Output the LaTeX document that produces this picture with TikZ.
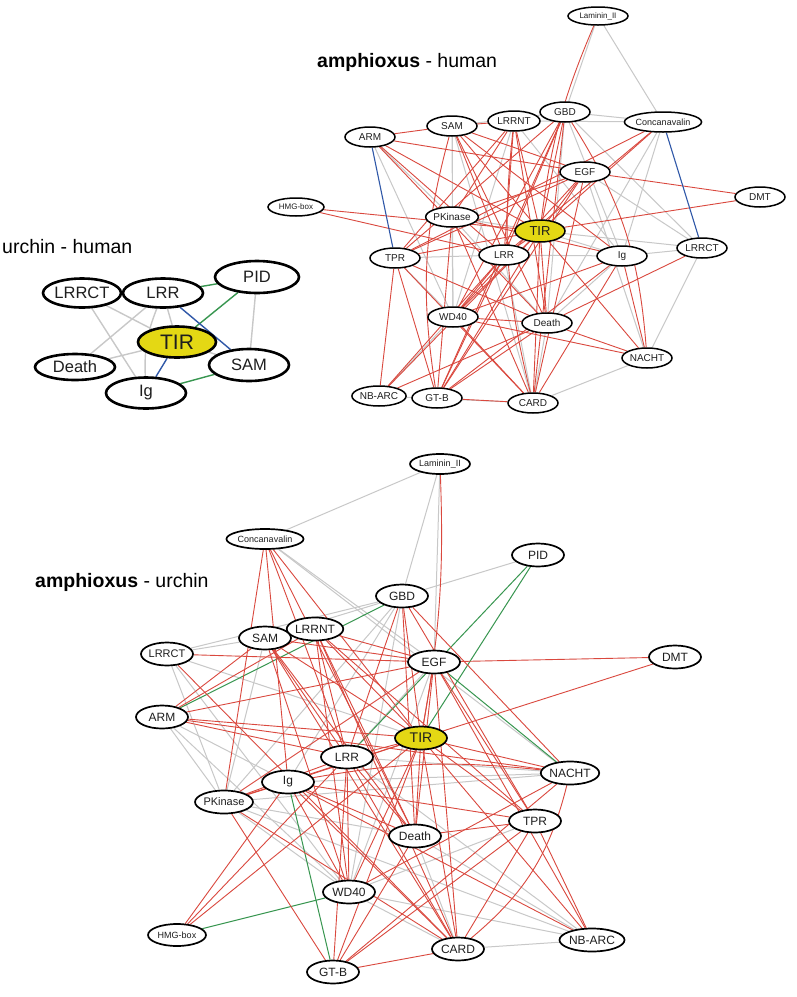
\documentclass[tikz,border=0pt]{standalone}
\usepackage{fontspec}
\setmainfont{Liberation Sans}
\usetikzlibrary{shapes.geometric}
\pgfdeclarelayer{bg}
\pgfsetlayers{bg,main}
\definecolor{er}{RGB}{218,72,62}
\definecolor{eg}{RGB}{200,200,200}
\definecolor{egr}{RGB}{56,150,80}
\definecolor{eb}{RGB}{48,88,168}
\definecolor{tiry}{RGB}{228,216,20}
\definecolor{txt}{RGB}{30,30,30}
\begin{document}
\begin{tikzpicture}[x=1pt,y=-1pt,
 base/.style={ellipse,draw=black,fill=white,inner sep=0pt,text=txt},
 tn/.style={base,line width=1.5pt,minimum width=50pt,minimum height=20pt,font=\fontsize{10}{10}\selectfont},
 tsm/.style={tn,font=\fontsize{8}{8}\selectfont},
 bn/.style={base,line width=1.7pt,minimum width=52pt,minimum height=23pt,font=\fontsize{12}{12}\selectfont},
 bsm/.style={bn,font=\fontsize{9}{9}\selectfont,minimum height=20pt},
 un/.style={base,line width=2.6pt,minimum width=79pt,minimum height=29pt,font=\fontsize{16.5}{16.5}\selectfont},
 tirs/.style={fill=tiry},
 re/.style={draw=er,line width=0.9pt},
 ge/.style={draw=eg,line width=1pt},
 gre/.style={draw=egr,line width=1pt},
 ble/.style={draw=eb,line width=1.1pt},
 title/.style={anchor=west,font=\fontsize{19.5}{19.5}\selectfont,text=black}]
\useasboundingbox (0,0) rectangle (797,997);
\begin{pgfonlayer}{bg}
\fill[white] (0,0) rectangle (797,997);
\end{pgfonlayer}
% titles
\node[title,inner sep=0pt] (t1) at (2,247) {urchin - human};
\node[title,inner sep=0pt] (t2) at (317,62) {\textbf{amphioxus} - human};
\node[title,inner sep=0pt] (t3) at (35,582) {\textbf{amphioxus} - urchin};

% ---------- urchin - human ----------
\node[un,minimum width=78pt] (cLRRCT) at (82,293) {LRRCT};
\node[un,minimum width=80pt] (cLRR) at (163,293) {LRR};
\node[un,minimum width=84pt,minimum height=32pt] (cPID) at (257,277) {PID};
\node[un,tirs,font=\fontsize{21}{21}\selectfont,minimum width=78pt,minimum height=31pt] (cTIR) at (177,342) {TIR};
\node[un,minimum width=80pt,minimum height=26pt] (cDeath) at (75,367) {Death};
\node[un,minimum width=80pt,minimum height=32pt] (cSAM) at (249,365) {SAM};
\node[un,minimum width=80pt,minimum height=31pt] (cIg) at (146,393) {Ig};
\begin{pgfonlayer}{bg}
\foreach \a/\b in {cPID/cSAM,cLRRCT/cTIR,cLRRCT/cIg,cLRR/cDeath,cLRR/cTIR,cDeath/cTIR,cTIR/cSAM}
 \path[ge,line width=1.4pt] (\a) -- (\b);
\path[ge,line width=1.4pt] (cLRR) to[bend right=12] (cIg);
\foreach \a/\b in {cLRR/cPID,cPID/cTIR,cIg/cSAM}
 \path[gre,line width=1.4pt] (\a) -- (\b);
\foreach \a/\b in {cLRR/cSAM,cTIR/cIg}
 \path[ble,line width=1.4pt] (\a) -- (\b);
\end{pgfonlayer}

% ---------- amphioxus - human ----------
\node[tsm,minimum width=60pt,minimum height=18pt] (hLam) at (598,16) {Laminin\_II};
\node[tn] (hGBD) at (565,112) {GBD};
\node[tn,minimum width=52pt] (hLRRNT) at (514,121) {LRRNT};
\node[tn] (hSAM) at (452,126) {SAM};
\node[tn] (hARM) at (370,137) {ARM};
\node[tsm,font=\fontsize{9}{9}\selectfont,minimum width=74pt] (hCon) at (663,122) {Concanavalin};
\node[tn] (hEGF) at (585,172) {EGF};
\node[tn] (hDMT) at (760,197) {DMT};
\node[tsm,minimum width=56pt,minimum height=18pt] (hHMG) at (296,207) {HMG-box};
\node[tn,minimum width=52pt] (hPK) at (452,217) {PKinase};
\node[tn,tirs,font=\fontsize{13}{13}\selectfont,minimum height=22pt] (hTIR) at (540,231) {TIR};
\node[tn] (hTPR) at (395,258) {TPR};
\node[tn] (hLRR) at (504,255) {LRR};
\node[tn] (hIg) at (622,256) {Ig};
\node[tn] (hLRRCT) at (702,248) {LRRCT};
\node[tn] (hWD) at (453,317) {WD40};
\node[tn] (hDeath) at (547,323) {Death};
\node[tn] (hNACHT) at (647,358) {NACHT};
\node[tn,minimum width=52pt] (hNBARC) at (379,396) {NB-ARC};
\node[tn] (hGTB) at (437,398) {GT-B};
\node[tn] (hCARD) at (533,403) {CARD};
\begin{pgfonlayer}{bg}
\foreach \a/\b in {hLam/hGBD,hLam/hCon,hGBD/hSAM,hGBD/hCon,hLRRNT/hCon,hARM/hPK,hARM/hWD,hSAM/hWD,hSAM/hPK,hLRRNT/hIg,hGBD/hIg,hGBD/hLRRCT,hCon/hIg,hCon/hDeath,hEGF/hLRRCT,hEGF/hNACHT,hPK/hDeath,hPK/hWD,hPK/hTIR,hTIR/hIg,hTIR/hLRRCT,hTPR/hLRR,hTPR/hWD,hLRR/hIg,hLRR/hCARD,hIg/hLRRCT,hIg/hDeath,hLRRCT/hNACHT,hWD/hNBARC,hDeath/hCARD,hNACHT/hCARD,hNBARC/hCARD,hSAM/hCARD,hLRRNT/hWD,hGBD/hDeath}
 \path[ge] (\a) -- (\b);
\foreach \a/\b in {hARM/hSAM,hARM/hEGF,hARM/hTIR,hARM/hLRR,hARM/hDeath,hSAM/hLRRNT,hSAM/hEGF,hSAM/hTIR,hSAM/hIg,hSAM/hLRR,hSAM/hDeath,hLRRNT/hTPR,hLRRNT/hLRR,hLRRNT/hDeath,hLRRNT/hTIR,hLRRNT/hPK,hGBD/hTIR,hGBD/hLRR,hGBD/hGTB,hGBD/hWD,hGBD/hCARD,hGBD/hTPR,hCon/hTIR,hCon/hTPR,hCon/hLRR,hEGF/hDMT,hEGF/hTPR,hEGF/hTIR,hEGF/hWD,hEGF/hGTB,hEGF/hCARD,hEGF/hPK,hDMT/hTIR,hHMG/hTIR,hHMG/hLRR,hPK/hIg,hPK/hGTB,hPK/hCARD,hTIR/hTPR,hTIR/hLRR,hTIR/hDeath,hTIR/hNACHT,hTIR/hGTB,hTIR/hCARD,hTIR/hNBARC,hTIR/hWD,hTPR/hNBARC,hTPR/hGTB,hTPR/hDeath,hTPR/hCARD,hLRR/hGTB,hLRR/hNBARC,hLRR/hWD,hIg/hWD,hIg/hNACHT,hIg/hCARD,hIg/hGTB,hLRRCT/hDeath,hWD/hDeath,hWD/hNACHT,hWD/hCARD,hDeath/hNBARC,hDeath/hGTB,hDeath/hNACHT,hGTB/hCARD}
 \path[re] (\a) -- (\b);
\path[re] (hLam) to[bend right=8] (hTIR);
\path[re] (hGBD) to[bend left=14] (hNACHT);
\path[re] (hLRRNT) to[bend right=10] (hCARD);
\path[re] (hSAM) to[bend right=12] (hGTB);
\foreach \a/\b in {hARM/hTPR,hCon/hLRRCT}
 \path[ble] (\a) -- (\b);
\end{pgfonlayer}

% ---------- amphioxus - urchin ----------
\node[bsm,minimum width=60pt] (uLam) at (440,464) {Laminin\_II};
\node[bsm,minimum width=73pt] (uCon) at (265,539) {Concanavalin};
\node[bn] (uPID) at (538,555) {PID};
\node[bn] (uGBD) at (402,596) {GBD};
\node[bn,minimum width=54pt] (uLRRNT) at (315,629) {LRRNT};
\node[bn] (uSAM) at (265,638) {SAM};
\node[bn,font=\fontsize{11}{11}\selectfont] (uLRRCT) at (167,654) {LRRCT};
\node[bn] (uEGF) at (434,662) {EGF};
\node[bn] (uDMT) at (675,657) {DMT};
\node[bn] (uARM) at (162,717) {ARM};
\node[bn,tirs,font=\fontsize{14}{14}\selectfont] (uTIR) at (421,738) {TIR};
\node[bn] (uLRR) at (347,757) {LRR};
\node[bn,minimum width=55pt] (uNACHT) at (570,773) {NACHT};
\node[bn] (uIg) at (288,782) {Ig};
\node[bn,font=\fontsize{11}{11}\selectfont] (uPK) at (224,802) {PKinase};
\node[bn] (uTPR) at (535,821) {TPR};
\node[bn] (uDeath) at (415,836) {Death};
\node[bn] (uWD) at (349,892) {WD40};
\node[bsm,minimum width=58pt,minimum height=22pt] (uHMG) at (177,935) {HMG-box};
\node[bn] (uCARD) at (458,949) {CARD};
\node[bn,minimum width=56pt] (uNBARC) at (592,940) {NB-ARC};
\node[bn] (uGTB) at (333,972) {GT-B};
\begin{pgfonlayer}{bg}
\foreach \a/\b in {uLam/uCon,uLam/uGBD,uLam/uEGF,uPID/uSAM,uGBD/uLRRCT,uCon/uEGF,uCon/uNACHT,uGBD/uIg,uGBD/uPK,uGBD/uWD,uSAM/uLRRCT,uSAM/uPK,uLRRCT/uPK,uLRRCT/uWD,uLRRCT/uTIR,uARM/uPK,uARM/uWD,uARM/uIg,uEGF/uLRR,uEGF/uWD,uNACHT/uPK,uLRR/uNBARC,uPK/uWD,uPK/uNBARC,uPK/uDeath,uTPR/uWD,uDeath/uCARD,uDeath/uNBARC,uWD/uCARD,uWD/uNBARC,uCARD/uNBARC,uLRR/uNACHT,uIg/uNACHT}
 \path[ge] (\a) -- (\b);
\foreach \a/\b in {uPID/uTIR,uPID/uLRR,uGBD/uARM,uEGF/uNACHT,uIg/uGTB,uWD/uHMG}
 \path[gre] (\a) -- (\b);
\foreach \a/\b in {uCon/uPK,uCon/uIg,uCon/uLRR,uCon/uDeath,uCon/uTIR,uGBD/uLRR,uGBD/uTIR,uGBD/uNACHT,uGBD/uTPR,uGBD/uDeath,uLRRNT/uEGF,uLRRNT/uTIR,uLRRNT/uLRR,uLRRNT/uDeath,uLRRNT/uCARD,uLRRNT/uARM,uLRRNT/uTPR,uLRRNT/uWD,uSAM/uEGF,uSAM/uARM,uSAM/uTIR,uSAM/uDeath,uSAM/uCARD,uSAM/uLRR,uSAM/uWD,uLRRCT/uEGF,uLRRCT/uCARD,uARM/uEGF,uARM/uTIR,uARM/uLRR,uARM/uNACHT,uDMT/uEGF,uDMT/uTIR,uEGF/uTIR,uEGF/uPK,uEGF/uCARD,uEGF/uTPR,uEGF/uNBARC,uEGF/uDeath,uTIR/uLRR,uTIR/uNACHT,uTIR/uIg,uTIR/uPK,uTIR/uTPR,uTIR/uDeath,uTIR/uWD,uTIR/uCARD,uTIR/uGTB,uTIR/uNBARC,uTIR/uHMG,uNACHT/uWD,uNACHT/uGTB,uLRR/uWD,uLRR/uGTB,uLRR/uHMG,uLRR/uCARD,uLRR/uDeath,uLRR/uPK,uIg/uPK,uIg/uCARD,uIg/uDeath,uIg/uWD,uIg/uTPR,uPK/uGTB,uPK/uCARD,uHMG/uIg,uTPR/uDeath,uTPR/uCARD,uTPR/uGTB,uTPR/uNBARC,uDeath/uGTB,uCARD/uGTB,uNBARC/uIg}
 \path[re] (\a) -- (\b);
\path[re] (uLam) to[bend left=6] (uTIR);
\path[re] (uNACHT) to[bend left=18] (uCARD);
\path[re] (uIg) to[bend left=8] (uNACHT);
\end{pgfonlayer}
\end{tikzpicture}
\end{document}
